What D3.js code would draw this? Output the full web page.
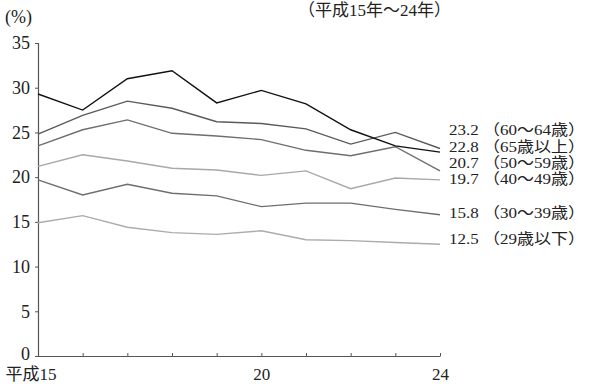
<!DOCTYPE html>
<html lang="ja">
<head>
<meta charset="UTF-8">
<title>年齢階級別 推移</title>
<script src="https://d3js.org/d3.v7.min.js"></script>
<style>
  body { margin: 0; background: #fff; }
  svg text { font-family: "Liberation Serif", "DejaVu Serif", "Noto Sans CJK JP", serif; fill: #222; }
</style>
</head>
<body>
<div id="chart"></div>
<script>
// years (平成)
const years = [15, 16, 17, 18, 19, 20, 21, 22, 23, 24];
const yTicks = [0, 5, 10, 15, 20, 25, 30, 35];
const xTickLabels = { 15: "平成15", 20: "20", 24: "24" };

const s65 = [29.3, 27.5, 31.0, 31.9, 28.3, 29.7, 28.2, 25.3, 23.5, 22.8];
const s6064 = [24.8, 26.9, 28.5, 27.7, 26.2, 26.0, 25.4, 23.7, 25.0, 23.2];
const s5059 = [23.5, 25.3, 26.4, 24.9, 24.6, 24.2, 23.0, 22.4, 23.4, 20.7];
const s4049 = [21.2, 22.5, 21.8, 21.0, 20.8, 20.2, 20.7, 18.7, 19.9, 19.7];
const s3039 = [19.7, 18.0, 19.2, 18.2, 17.9, 16.7, 17.1, 17.1, 16.4, 15.8];
const s29 = [14.9, 15.7, 14.4, 13.8, 13.6, 14.0, 13.0, 12.9, 12.7, 12.5];

const seriesNames = ["60～64歳", "65歳以上", "50～59歳", "40～49歳", "30～39歳", "29歳以下"];
const seriesValues = [s6064, s65, s5059, s4049, s3039, s29];
const seriesColors = ["#5a5a5a", "#111111", "#6e6e6e", "#a8a8a8", "#6e6e6e", "#ababab"];
// label vertical positions (px), spaced so they do not overlap
const labelY = [130, 147, 163, 179, 213, 239];

const width = 600, height = 384;
const margin = { left: 38, right: 160, top: 43, bottom: 28 };

const svg = d3.select("#chart").append("svg")
  .attr("width", width)
  .attr("height", height);

const x = d3.scaleLinear()
  .domain([15, 24])
  .range([margin.left, width - margin.right]);

const y = d3.scaleLinear()
  .domain([0, 35])
  .range([height - margin.bottom, margin.top]);

// y axis
const yAxis = svg.append("g")
  .attr("transform", `translate(${margin.left},0)`)
  .call(d3.axisLeft(y).tickValues(yTicks).tickSize(3).tickPadding(5));
yAxis.select(".domain").attr("stroke", "#555").attr("stroke-width", 1.2);
yAxis.selectAll(".tick line").attr("stroke", "#555");
yAxis.selectAll(".tick text").attr("font-size", 18).attr("fill", "#222");
yAxis.selectAll(".tick text").filter(d => d === 0).attr("dy", "0.2em");

// x axis, ticks pointing inward
const xAxis = svg.append("g")
  .attr("transform", `translate(0,${height - margin.bottom})`)
  .call(d3.axisBottom(x).tickValues(years).tickSizeInner(-3).tickSizeOuter(0)
    .tickFormat(d => xTickLabels[d] || ""));
xAxis.select(".domain").attr("stroke", "#555").attr("stroke-width", 1.2);
xAxis.selectAll(".tick line").attr("stroke", "#555");
xAxis.selectAll(".tick text")
  .attr("font-size", 17).attr("fill", "#222")
  .attr("y", 18).attr("dy", "0.35em");
xAxis.selectAll(".tick text").filter(d => d === 15).attr("text-anchor", "start").attr("dx", -33);

// unit label
svg.append("text")
  .attr("x", 5).attr("y", 23)
  .attr("font-size", 18)
  .text("(%)");

// period label
svg.append("text")
  .attr("x", 298).attr("y", 16)
  .attr("font-size", 17)
  .text("（平成15年～24年）");

const line = d3.line()
  .x((d, i) => x(years[i]))
  .y(d => y(d));

// draw lighter lines first so the black line sits on top
const order = [5, 3, 4, 2, 0, 1];
order.forEach(k => {
  svg.append("path")
    .datum(seriesValues[k])
    .attr("fill", "none")
    .attr("stroke", seriesColors[k])
    .attr("stroke-width", 1.4)
    .attr("d", line);
});

// end labels
seriesValues.forEach((vals, k) => {
  const last = vals[vals.length - 1];
  svg.append("text")
    .attr("x", x(24) + 9)
    .attr("y", labelY[k])
    .attr("dy", "0.35em")
    .attr("font-size", 15)
    .attr("textLength", 136)
    .attr("lengthAdjust", "spacingAndGlyphs")
    .text(`${last.toFixed(1)} （${seriesNames[k]}）`);
});
</script>
</body>
</html>
